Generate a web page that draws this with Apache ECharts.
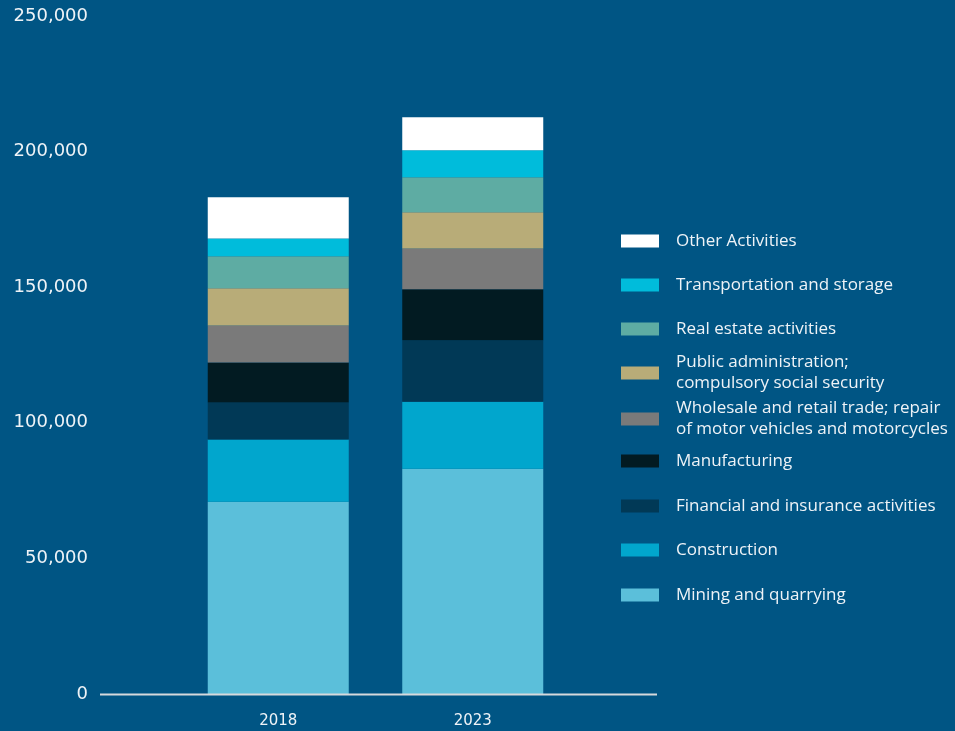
<!DOCTYPE html>
<html>
<head>
<meta charset="utf-8">
<script src="https://cdn.jsdelivr.net/npm/echarts@6/dist/echarts.min.js"></script>
<style>
  html, body { margin: 0; padding: 0; background: #005584; }
  #chart { width: 955px; height: 731px; }
</style>
</head>
<body>
<div id="chart"></div>
<script>
// Employment by sector, stacked by year
const years = ['2018', '2023'];

const sectorNames = [
  'Mining and quarrying',
  'Construction',
  'Financial and insurance activities',
  'Manufacturing',
  'Wholesale and retail trade; repair\nof motor vehicles and motorcycles',
  'Public administration;\ncompulsory social security',
  'Real estate activities',
  'Transportation and storage',
  'Other Activities'
];

const mining        = [70900, 83100];
const construction  = [22900, 24700];
const financial     = [13700, 22600];
const manufacturing = [14700, 18800];
const wholesale     = [13700, 15100];
const publicAdmin   = [13700, 13300];
const realEstate    = [11800, 12900];
const transport     = [6600, 10000];
const other         = [15200, 12200];

const yTicks = [0, 50000, 100000, 150000, 200000, 250000];

const seriesValues = [mining, construction, financial, manufacturing, wholesale,
                      publicAdmin, realEstate, transport, other];
const colors = ['#5bbfda', '#01a6cd', '#013956', '#021b22', '#7a7a7a',
                '#b8ac78', '#5eaca3', '#00bcdb', '#ffffff'];

const textColor = '#eef3f7';
const legendFont = '"Open Sans", Lato, sans-serif';
const axisFont = '"DejaVu Sans", "Open Sans", sans-serif';

// Legend rows listed top to bottom (reverse stacking order), each row placed by its centre
const legendCenters = [241, 285, 329, 373, 419, 461, 506, 550, 595];
const legends = sectorNames.slice().reverse().map((name, i) => {
  const lines = name.split('\n').length;
  const h = lines * 21;
  return {
    data: [name],
    orient: 'vertical',
    left: 621,
    top: legendCenters[i] - h / 2,
    itemWidth: 38,
    itemHeight: 13,
    icon: 'rect',
    selectedMode: false,
    padding: 0,
    textStyle: {
      color: textColor,
      fontFamily: legendFont,
      fontSize: 17,
      lineHeight: 21,
      padding: [0, 0, 0, 12]
    }
  };
});

const chart = echarts.init(document.getElementById('chart'), null, { renderer: 'canvas' });

chart.setOption({
  backgroundColor: '#005584',
  animation: false,
  grid: { left: 181, width: 389, top: 16, bottom: 37 },
  legend: legends,
  xAxis: {
    type: 'category',
    data: years,
    axisLine: { show: false },
    axisTick: { show: false },
    axisLabel: { color: textColor, fontFamily: axisFont, fontSize: 15, margin: 20 }
  },
  yAxis: {
    type: 'value',
    min: yTicks[0],
    max: yTicks[yTicks.length - 1],
    interval: 50000,
    splitLine: { show: false },
    axisLine: { show: false },
    axisTick: { show: false },
    axisLabel: {
      color: textColor,
      fontFamily: axisFont,
      fontSize: 18,
      margin: 93,
      formatter: v => v.toLocaleString('en-US')
    }
  },
  graphic: [{
    type: 'line',
    shape: { x1: 100, y1: 694.5, x2: 657, y2: 694.5 },
    style: { stroke: '#d6d9dc', lineWidth: 2 },
    z: 10
  }],
  series: seriesValues.map((vals, i) => ({
    name: sectorNames[i],
    type: 'bar',
    stack: 'total',
    barWidth: 141,
    data: vals,
    itemStyle: { color: colors[i] }
  }))
});
</script>
</body>
</html>
